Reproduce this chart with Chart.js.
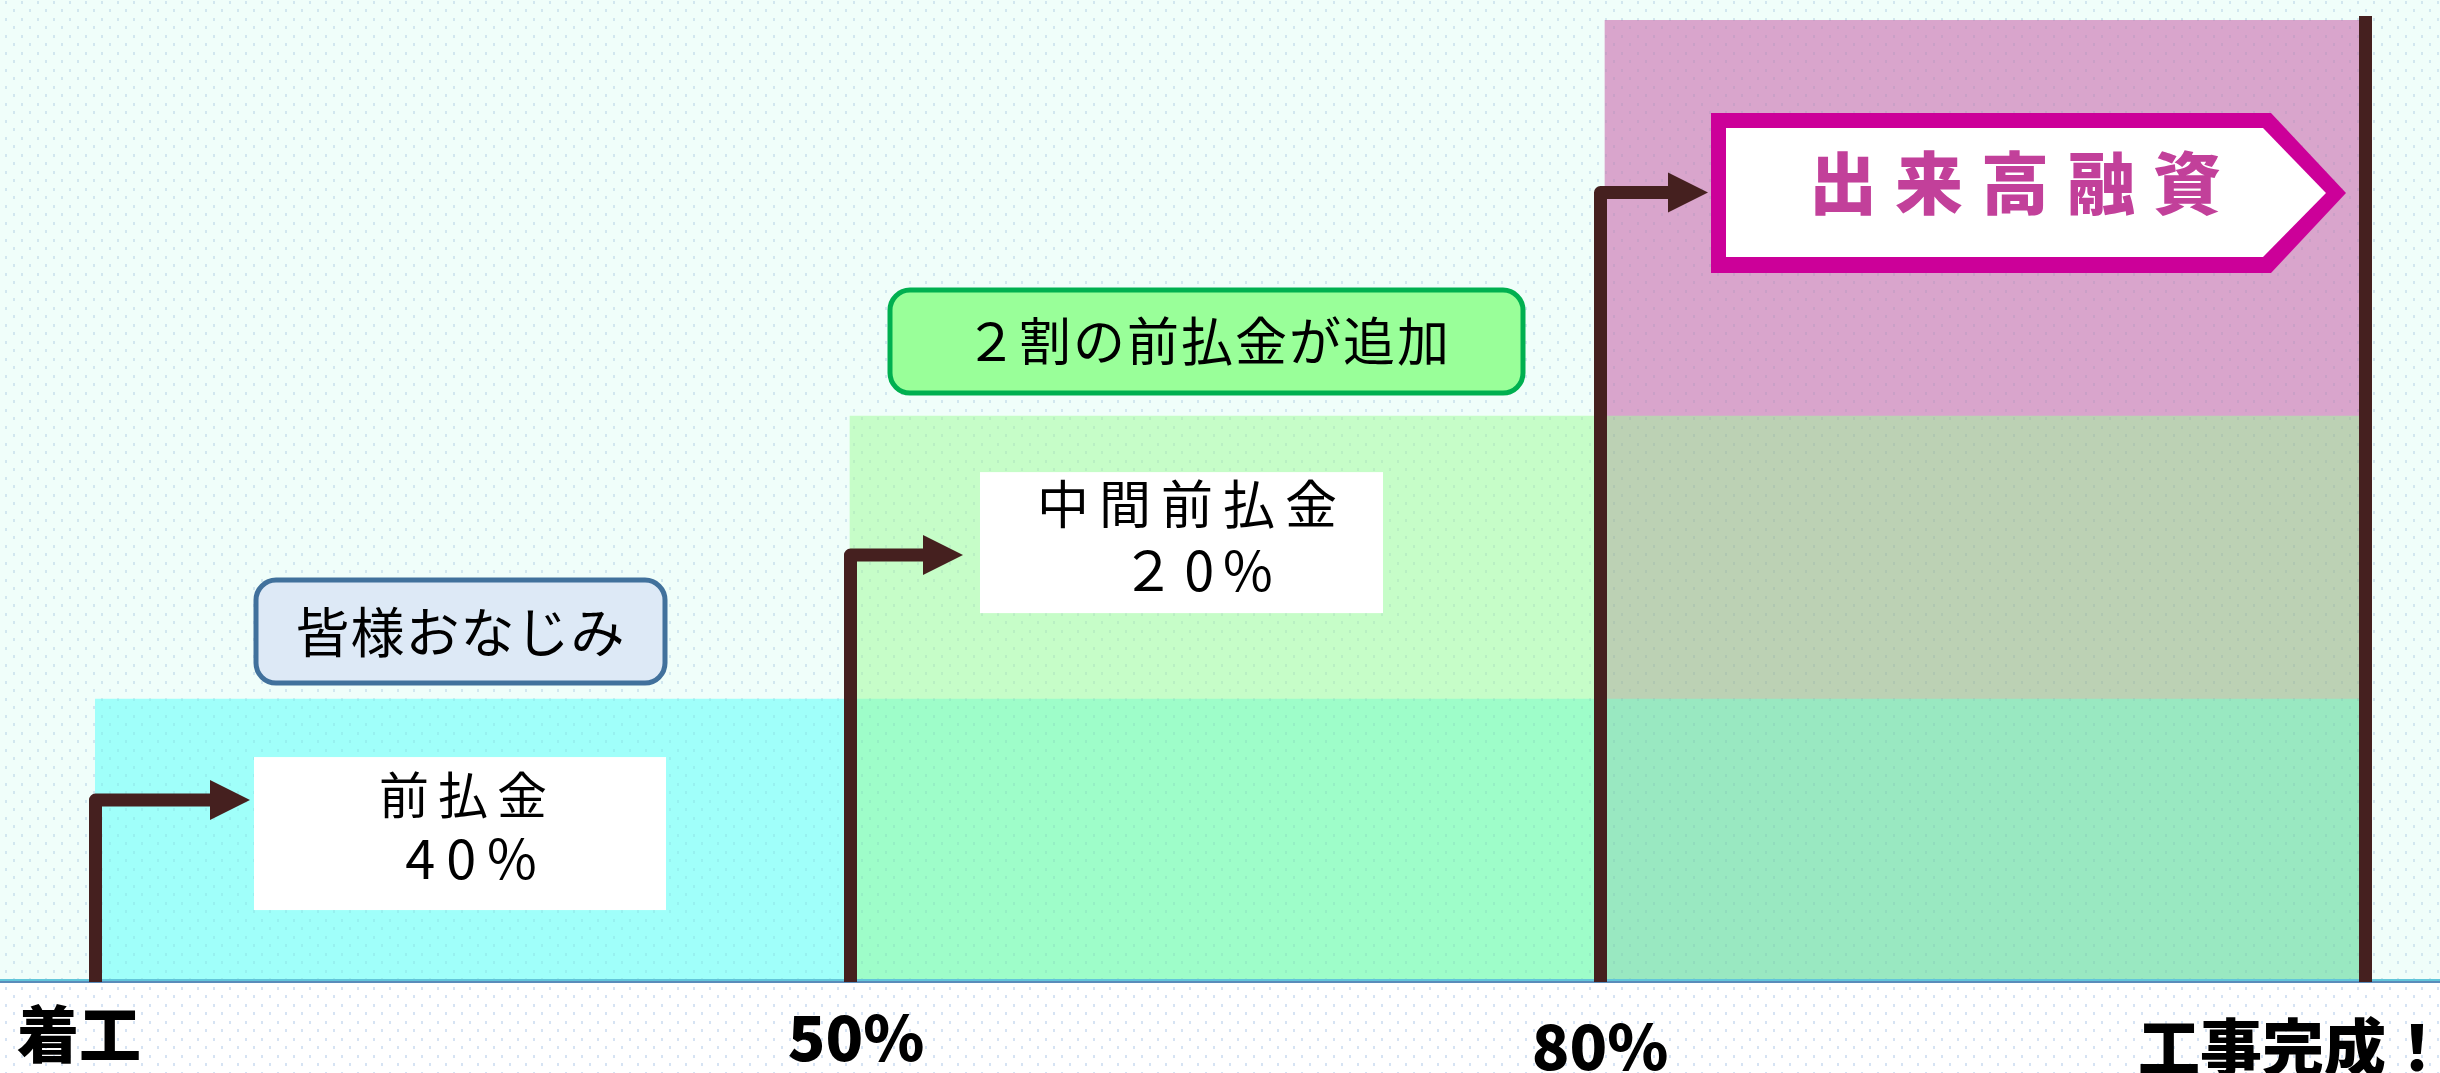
<!DOCTYPE html>
<html><head><meta charset="utf-8">
<script src="https://cdn.jsdelivr.net/npm/chart.js@4.4.1/dist/chart.umd.min.js"></script>
<style>html,body{margin:0;padding:0;background:#fff;overflow:hidden}canvas{display:block}</style>
</head><body>
<canvas id="c" width="2440" height="1073"></canvas>
<script>
// ---- data ----
const stages = ['着工〜50%', '50%〜80%', '80%〜工事完成'];
const milestones = ['着工', '50%', '80%', '工事完成！'];
const advancePayment = [40, 40, 40];   // 前払金
const interimPayment = [0, 40, 40];    // 中間前払金
const progressLoan = [0, 0, 56];       // 出来高融資
const calloutTexts = ['皆様おなじみ', '２割の前払金が追加'];
const boxTexts = [['前払金', '40%'], ['中間前払金', '２0%'], ['出来高融資']];

// ---- styles ----
const FONT = '"Noto Sans CJK JP", "Noto Sans CJK SC", "Noto Sans", sans-serif';
const BROWN = '#45201f';

function makePattern(ctx, color) {
  const c = document.createElement('canvas'); c.width = 16; c.height = 17;
  const g = c.getContext('2d'); g.fillStyle = color;
  g.fillRect(13, 9, 2, 3); g.fillRect(5, 1, 2, 3);
  return ctx.createPattern(c, 'repeat');
}
function roundRect(ctx, x, y, w, h, r) {
  ctx.beginPath();
  ctx.moveTo(x + r, y); ctx.lineTo(x + w - r, y); ctx.arcTo(x + w, y, x + w, y + r, r);
  ctx.lineTo(x + w, y + h - r); ctx.arcTo(x + w, y + h, x + w - r, y + h, r);
  ctx.lineTo(x + r, y + h); ctx.arcTo(x, y + h, x, y + h - r, r);
  ctx.lineTo(x, y + r); ctx.arcTo(x, y, x + r, y, r); ctx.closePath();
}
function spacedText(ctx, text, x, y, font, sp, color, align) {
  ctx.save();
  ctx.font = font; ctx.fillStyle = color || '#000';
  ctx.letterSpacing = sp + 'px';
  ctx.textAlign = align || 'center'; ctx.textBaseline = 'middle';
  ctx.fillText(text, (align === 'left' ? x : x + sp / 2), y);
  ctx.restore();
}
function elbowArrow(ctx, x, y0, y1, tipX) {
  ctx.save();
  ctx.strokeStyle = BROWN; ctx.fillStyle = BROWN; ctx.lineWidth = 13; ctx.lineJoin = 'round';
  ctx.beginPath(); ctx.moveTo(x, y0); ctx.lineTo(x, y1); ctx.lineTo(tipX - 36, y1); ctx.stroke();
  ctx.beginPath(); ctx.moveTo(tipX - 40, y1 - 20); ctx.lineTo(tipX, y1); ctx.lineTo(tipX - 40, y1 + 20);
  ctx.closePath(); ctx.fill();
  ctx.restore();
}

const decor = {
  id: 'decor',
  beforeDraw(chart) {
    const {ctx, width, height} = chart;
    const base = chart.scales.y.getPixelForValue(0);
    ctx.save();
    ctx.fillStyle = '#f0fefa'; ctx.fillRect(0, 0, width, base);
    ctx.fillStyle = '#ffffff'; ctx.fillRect(0, base, width, height - base);
    ctx.fillStyle = makePattern(ctx, '#d2e7ef'); ctx.fillRect(0, 0, width, base);
    ctx.fillStyle = makePattern(ctx, '#d6e3f3'); ctx.fillRect(0, base, width, height - base);
    ctx.restore();
  },
  afterDatasetsDraw(chart) {
    const {ctx, width} = chart;
    const y = chart.scales.y;
    const base = y.getPixelForValue(0);
    const bars = chart.getDatasetMeta(0).data;
    const seg = bars.map(b => ({L: b.x - b.width / 2, R: b.x + b.width / 2}));
    const cyanTop = y.getPixelForValue(advancePayment[0]);
    const greenTop = y.getPixelForValue(advancePayment[1] + interimPayment[1]);
    const pinkTop = y.getPixelForValue(advancePayment[2] + interimPayment[2] + progressLoan[2]);

    // faint dots over the bars
    ctx.save();
    ctx.fillStyle = makePattern(ctx, 'rgba(80,120,160,0.10)');
    chart.data.datasets.forEach((ds, i) => {
      chart.getDatasetMeta(i).data.forEach((b, j) => {
        if (ds.data[j] > 0) ctx.fillRect(b.x - b.width / 2, b.y, b.width, b.base - b.y);
      });
    });
    ctx.restore();

    // baseline
    ctx.save();
    ctx.fillStyle = '#62c6da'; ctx.fillRect(0, base - 3, width, 2);
    ctx.fillStyle = '#5a8cba'; ctx.fillRect(0, base - 1, width, 2);
    ctx.restore();

    // right completion line
    ctx.save();
    ctx.fillStyle = BROWN;
    ctx.fillRect(seg[2].R - 1, pinkTop - 4, 13, base - pinkTop + 4);
    ctx.restore();

    // stage 1
    const L0 = seg[0].L;
    ctx.save();
    ctx.fillStyle = '#dde9f6'; ctx.strokeStyle = '#41719c'; ctx.lineWidth = 5;
    roundRect(ctx, L0 + 161, cyanTop - 119, 409, 103, 20); ctx.fill(); ctx.stroke();
    ctx.fillStyle = '#ffffff'; ctx.fillRect(L0 + 159, cyanTop + 58, 412, 153);
    ctx.restore();
    spacedText(ctx, calloutTexts[0], L0 + 365, cyanTop - 67, '400 54px ' + FONT, 1);
    spacedText(ctx, boxTexts[0][0], L0 + 368, cyanTop + 96, '400 50px ' + FONT, 9);
    spacedText(ctx, boxTexts[0][1], L0 + 376, cyanTop + 159, '400 54px ' + FONT, 11);
    elbowArrow(ctx, L0 + 0.5, base, cyanTop + 101, L0 + 155);

    // stage 2
    const L1 = seg[1].L;
    ctx.save();
    ctx.fillStyle = '#99ff99'; ctx.strokeStyle = '#00b050'; ctx.lineWidth = 5;
    roundRect(ctx, L1 + 40, greenTop - 126, 633, 103, 20); ctx.fill(); ctx.stroke();
    ctx.fillStyle = '#ffffff'; ctx.fillRect(L1 + 130, greenTop + 56, 403, 141);
    ctx.restore();
    spacedText(ctx, calloutTexts[1], L1 + 357, greenTop - 75, '400 52px ' + FONT, 2);
    spacedText(ctx, boxTexts[1][0], L1 + 337, greenTop + 88, '400 52px ' + FONT, 10);
    spacedText(ctx, boxTexts[1][1], L1 + 347, greenTop + 154, '400 54px ' + FONT, 9);
    elbowArrow(ctx, L1 + 0.5, base, greenTop + 139, L1 + 113);

    // stage 3: 出来高融資 pentagon
    const L2 = seg[2].L, R2 = seg[2].R;
    const tip = R2 - 14, bodyR = tip - 75, left = tip - 635;
    const top = pinkTop + 93, bot = pinkTop + 253, mid = (top + bot) / 2;
    ctx.save();
    ctx.beginPath();
    ctx.moveTo(left, top); ctx.lineTo(bodyR, top); ctx.lineTo(tip, mid); ctx.lineTo(bodyR, bot); ctx.lineTo(left, bot);
    ctx.closePath();
    ctx.fillStyle = '#cc0099'; ctx.fill();
    ctx.beginPath();
    ctx.moveTo(left + 15, top + 15); ctx.lineTo(bodyR - 8, top + 15); ctx.lineTo(tip - 20, mid);
    ctx.lineTo(bodyR - 8, bot - 16); ctx.lineTo(left + 15, bot - 16); ctx.closePath();
    ctx.fillStyle = '#ffffff'; ctx.fill();
    ctx.restore();
    spacedText(ctx, boxTexts[2][0], (left + bodyR) / 2 + 24, top + 70, '900 68px ' + FONT, 18, '#c2409a');
    elbowArrow(ctx, L2 - 4.5, base, pinkTop + 172.5, left - 3);

    // milestone labels
    const lf = '900 62px ' + FONT;
    ctx.save();
    ctx.font = lf; ctx.fillStyle = '#000'; ctx.textBaseline = 'alphabetic';
    ctx.textAlign = 'left'; ctx.fillText(milestones[0], L0 - 78, base + 76);
    ctx.textAlign = 'center'; ctx.fillText(milestones[1], L1 + 6, base + 79);
    ctx.fillText(milestones[2], L2 - 5, base + 88);
    ctx.textAlign = 'left'; ctx.fillText(milestones[3], R2 - 222, base + 89);
    ctx.restore();
  }
};

function build() {
  new Chart(document.getElementById('c'), {
    type: 'bar',
    data: {
      labels: stages,
      datasets: [
        {label: '前払金', data: advancePayment,
         backgroundColor: ['#a0fffa', '#9efdc9', '#99e8c1']},
        {label: '中間前払金', data: interimPayment,
         backgroundColor: ['rgba(0,0,0,0)', '#c6fdc8', '#bcd1b4']},
        {label: '出来高融資', data: progressLoan,
         backgroundColor: ['rgba(0,0,0,0)', 'rgba(0,0,0,0)', '#d9a5cc']}
      ]
    },
    options: {
      responsive: false, animation: false, devicePixelRatio: 1,
      layout: {padding: {left: 95, right: 80, top: 20, bottom: 91}},
      datasets: {bar: {categoryPercentage: 1, barPercentage: 1, borderWidth: 0}},
      plugins: {legend: {display: false}, tooltip: {enabled: false}},
      scales: {
        x: {stacked: true, display: false},
        y: {stacked: true, display: false, min: 0,
            max: advancePayment[2] + interimPayment[2] + progressLoan[2]}
      }
    },
    plugins: [decor]
  });
}
Promise.all([
  document.fonts.load('400 52px "Noto Sans CJK JP"'),
  document.fonts.load('900 62px "Noto Sans CJK JP"')
]).then(build, build);
</script>
</body></html>
